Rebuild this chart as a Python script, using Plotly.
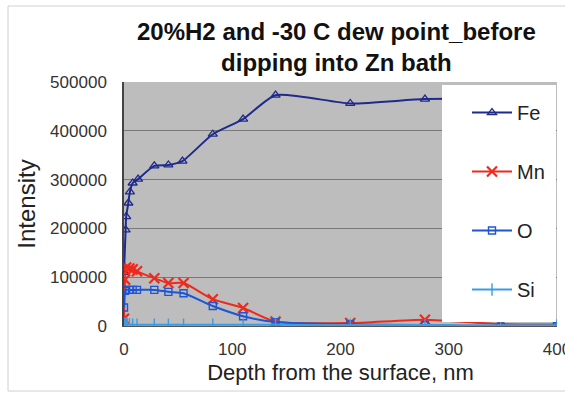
import plotly.graph_objects as go

# Depth profile (nm) and GDOES intensities per element
fe_depth = [0, 1.5, 2, 4, 5.5, 8, 13, 28, 41, 54, 82, 110, 140, 209, 278, 348]
fe_int = [110000, 197000, 224000, 252000, 275000, 293000, 301000, 328000,
          330000, 338000, 393000, 424000, 473000, 456000, 465000, 465000]

mn_depth = [0, 1, 2, 5, 8, 12, 28, 41, 55, 82, 110, 140, 209, 278, 348, 400]
mn_int = [15000, 95000, 120000, 118000, 116000, 112000, 98000, 88000, 88000,
          55000, 37000, 9000, 6000, 13000, 4000, 3000]

o_depth = [0, 1, 2, 5, 8, 12, 28, 41, 55, 82, 110, 140, 209, 278, 348, 400]
o_int = [38000, 72000, 74000, 74000, 74000, 74000, 74000, 70000, 67000,
         41000, 20000, 8000, 3000, 2000, -1500, 500]

si_depth = [0, 1, 2, 3, 5, 8, 12, 28, 41, 55, 82, 110, 140, 209, 278, 348, 400]
si_int = [4000, 5000, 3000, 4000, 3000, 2500, 2500, 2500, 2500, 2500, 2500,
          2500, 2500, 2000, 2000, 1500, 1500]

y_ticks = [0, 100000, 200000, 300000, 400000, 500000]
y_tick_text = ["0", "100000", "200000", "300000", "400000", "500000"]
x_ticks = [0, 100, 200, 300, 400]

W, H = 565, 395
L, R, T, B = 124, 8, 82, 69
FONT = "Liberation Sans, Arial, sans-serif"

fig = go.Figure()

series = [
    ("Fe", fe_depth, fe_int, "#1f2a8c", "triangle-up-open", 8, 1.3),
    ("Mn", mn_depth, mn_int, "#ee2a1c", "x-thin-open", 10, 2.2),
    ("O", o_depth, o_int, "#1d55d2", "square-open", 7, 1.4),
    ("Si", si_depth, si_int, "#3a9be6", "line-ns-open", 9, 1.4),
]
for name, xs, ys, col, sym, size, mw in series:
    fig.add_trace(go.Scatter(
        x=xs, y=ys, name=name, legendgroup=name,
        mode="lines+markers",
        line=dict(color=col, width=2, shape="spline", smoothing=0.6),
        marker=dict(symbol=sym, size=size, color=col, line=dict(color=col, width=mw)),
        cliponaxis=True,
    ))

# plot-area pixel helpers for placing the legend panel and title
pw, ph = W - L - R, H - T - B
def px_to_paper_x(px):
    return (px - L) / pw
def px_to_paper_y(py):
    return (H - B - py) / ph

fig.add_shape(type="rect", xref="paper", yref="paper",
              x0=px_to_paper_x(442), x1=px_to_paper_x(556),
              y0=px_to_paper_y(322), y1=px_to_paper_y(85),
              fillcolor="white", line=dict(width=0), layer="above")

fig.add_annotation(
    text="<b>20%H2 and -30 C dew point_before<br>dipping into Zn bath</b>",
    xref="paper", yref="paper",
    x=px_to_paper_x(336), y=px_to_paper_y(47),
    xanchor="center", yanchor="middle", showarrow=False,
    font=dict(size=24, family=FONT, color="#111111"),
)

fig.update_layout(
    width=W, height=H,
    margin=dict(l=L, r=R, t=T, b=B, autoexpand=False),
    paper_bgcolor="white",
    plot_bgcolor="#bdbdbd",
    font=dict(family=FONT, color="#222222"),
    showlegend=True,
    legend=dict(
        x=px_to_paper_x(467), y=px_to_paper_y(93),
        xanchor="left", yanchor="top",
        bgcolor="rgba(0,0,0,0)", borderwidth=0,
        font=dict(size=20, family=FONT, color="#222222"),
        traceorder="grouped", tracegroupgap=30,
        itemwidth=40,
    ),
    xaxis=dict(
        range=[0, 400], tickvals=x_ticks, automargin=False,
        showgrid=False, zeroline=False,
        showline=True, linecolor="#555555", linewidth=1, mirror=False,
        ticks="", tickfont=dict(size=17, family=FONT, color="#333333"),
        ticklabelstandoff=8, ticklabeloverflow="allow",
        title=dict(text="Depth from the surface, nm", standoff=6,
                   font=dict(size=22, family=FONT, color="#222222")),
    ),
    yaxis=dict(
        range=[0, 500000], tickvals=y_ticks, ticktext=y_tick_text,
        automargin=False,
        showgrid=True, gridcolor="#7a7a7a", gridwidth=1,
        zeroline=False,
        showline=True, linecolor="#444444", linewidth=1.5,
        ticks="", tickfont=dict(size=17, family=FONT, color="#333333"),
        ticklabelstandoff=12,
        title=dict(text="Intensity", standoff=8,
                   font=dict(size=24, family=FONT, color="#222222")),
    ),
)

# thin frame around the whole chart
fig.add_shape(type="rect", xref="paper", yref="paper",
              x0=(8 - L) / pw, x1=(570 - L) / pw,
              y0=(H - B - 391) / ph, y1=(H - B - 6) / ph,
              line=dict(color="#d0d0d0", width=1), fillcolor="rgba(0,0,0,0)",
              layer="below")

fig.write_html("out.html")
